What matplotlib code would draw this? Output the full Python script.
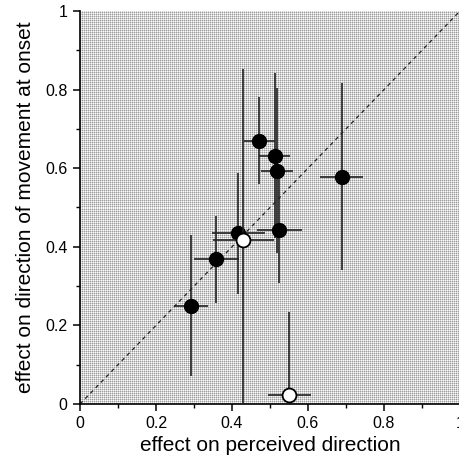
import matplotlib
matplotlib.use("Agg")
import matplotlib.pyplot as plt
import numpy as np
from matplotlib.ticker import MultipleLocator

plt.rcParams['font.family'] = ['Liberation Sans', 'DejaVu Sans']

# filled points
fx = [0.293, 0.359, 0.417, 0.472, 0.512, 0.519, 0.525, 0.689]
fy = [0.250, 0.368, 0.434, 0.670, 0.632, 0.593, 0.444, 0.578]
fxerr = [0.045, 0.060, 0.070, 0.040, 0.040, 0.042, 0.060, 0.057]
fyerr = [0.180, 0.110, 0.153, 0.110, 0.210, 0.210, 0.135, 0.238]

# open points
ox = [0.430, 0.551]
oy = [0.417, 0.023]
oxerr = [0.080, 0.056]
oyerr = [0.435, 0.210]

xticks = [0, 0.2, 0.4, 0.6, 0.8, 1]
xticklabels = ['0', '0.2', '0.4', '0.6', '0.8', '1']
yticks = [0, 0.2, 0.4, 0.6, 0.8, 1]
yticklabels = ['0', '0.2', '0.4', '0.6', '0.8', '1']

W, H = 460, 466
fig = plt.figure(figsize=(W / 100, H / 100), dpi=100)
axw, axh = 380, 393
ax = fig.add_axes([80 / W, 62 / H, axw / W, axh / H])
ax.set_xlim(0, 0.9974)
ax.set_ylim(0, 1)

# halftone-like background texture
ii, jj = np.mgrid[0:axh, 0:axw]
tex = np.where((ii % 2 == 0) & (jj % 2 == 0), 0.62,
               np.where((ii % 2 == 0) | (jj % 2 == 0), 0.83, 0.98))
ax.imshow(tex, cmap='gray', vmin=0, vmax=1, interpolation='nearest',
          extent=[0, 0.9974, 0, 1], aspect='auto', zorder=0)

ax.plot([0, 1], [0, 1], linestyle=(0, (3, 3)), color='#222222', lw=0.9, zorder=1)

ax.errorbar(fx, fy, xerr=fxerr, yerr=fyerr, fmt='o', color='#111111',
            ecolor='#222222', elinewidth=1.2, capsize=0, markersize=10,
            markerfacecolor='black', markeredgecolor='black', zorder=3)
ax.errorbar(ox, oy, xerr=oxerr, yerr=oyerr, fmt='o', color='#111111',
            ecolor='#222222', elinewidth=1.2, capsize=0, markersize=10,
            markerfacecolor='white', markeredgecolor='black', markeredgewidth=1.3,
            zorder=4)

ax.set_xticks(xticks)
ax.set_xticklabels(xticklabels)
ax.set_yticks(yticks)
ax.set_yticklabels(yticklabels)
ax.xaxis.set_minor_locator(MultipleLocator(0.1))
ax.yaxis.set_minor_locator(MultipleLocator(0.1))
ax.tick_params(which='major', direction='out', length=5, width=1.1, labelsize=11.5, pad=4)
ax.tick_params(which='minor', direction='out', length=3, width=1.0)

for s in ['top', 'right']:
    ax.spines[s].set_visible(False)
for s in ['left', 'bottom']:
    ax.spines[s].set_linewidth(1.2)

ax.set_xlabel('effect on perceived direction', fontsize=15, labelpad=3)
ax.set_ylabel('effect on direction of movement at onset', fontsize=15, labelpad=7)

fig.savefig('out.png', dpi=100)
